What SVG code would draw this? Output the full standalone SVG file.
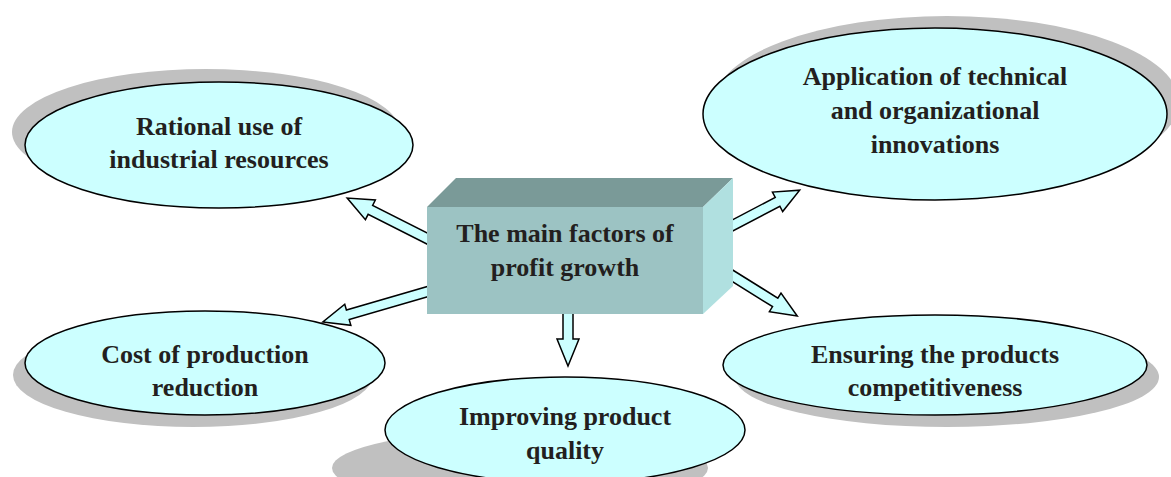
<svg xmlns="http://www.w3.org/2000/svg" width="1171" height="477" viewBox="0 0 1171 477">
<style>
.sh{fill:#c0c0c0}
.el{fill:#ccffff;stroke:#000;stroke-width:1.5}
.t{font-family:"Liberation Serif","Times New Roman",serif;font-weight:bold;font-size:26px;fill:#231f20;text-anchor:middle}
.ar{fill:#ccffff;stroke:#000;stroke-width:1.5;stroke-linejoin:miter}
</style>
<rect width="1171" height="477" fill="#fff"/>
<g id="connectors">
<polygon class="ar" transform="translate(440,245) rotate(206.8)" points="0,-5 78,-5 78,-11 104,0 78,11 78,5 0,5"/>
<polygon class="ar" transform="translate(440,288) rotate(163.8)" points="0,-5 96,-5 96,-11 122,0 96,11 96,5 0,5"/>
<polygon class="ar" transform="translate(568,305) rotate(90)" points="0,-5 34,-5 34,-11 61,0 34,11 34,5 0,5"/>
<polygon class="ar" transform="translate(720,232) rotate(-27.7)" points="0,-5 65,-5 65,-11 90,0 65,11 65,5 0,5"/>
<polygon class="ar" transform="translate(720,268) rotate(31.9)" points="0,-5 65,-5 65,-11 91,0 65,11 65,5 0,5"/>
</g>
<g id="center">
<polygon fill="#7a9a98" points="427,207 456,178 733,178 703,207"/>
<polygon fill="#b0e0e0" points="703,207 733,178 733,286 703,314"/>
<rect x="427" y="207" width="276" height="107" fill="#9cc3c3"/>
<text class="t" x="565" y="242">The main factors of</text>
<text class="t" x="565" y="276">profit growth</text>
</g>
<g id="rational">
<ellipse class="sh" cx="206" cy="132" rx="194" ry="63"/>
<ellipse class="el" cx="219" cy="145" rx="194" ry="63"/>
<text class="t" x="219" y="135">Rational use of</text>
<text class="t" x="219" y="168">industrial resources</text>
</g>
<g id="application">
<ellipse class="sh" cx="947" cy="102" rx="232" ry="86"/>
<ellipse class="el" cx="935" cy="114" rx="232" ry="86"/>
<text class="t" x="935" y="85">Application of technical</text>
<text class="t" x="935" y="119">and organizational</text>
<text class="t" x="935" y="153">innovations</text>
</g>
<g id="cost">
<ellipse class="sh" cx="193" cy="375" rx="180" ry="52"/>
<ellipse class="el" cx="205" cy="363" rx="180" ry="52"/>
<text class="t" x="205" y="363">Cost of production</text>
<text class="t" x="205" y="396">reduction</text>
</g>
<g id="quality">
<ellipse class="sh" cx="520" cy="468" rx="188" ry="38"/>
<ellipse class="el" cx="565" cy="430" rx="180" ry="53"/>
<text class="t" x="565" y="425">Improving product</text>
<text class="t" x="565" y="459">quality</text>
</g>
<g id="competitiveness">
<ellipse class="sh" cx="947" cy="377" rx="212" ry="50"/>
<ellipse class="el" cx="935" cy="365" rx="212" ry="50"/>
<text class="t" x="935" y="363">Ensuring the products</text>
<text class="t" x="935" y="396">competitiveness</text>
</g>
</svg>
